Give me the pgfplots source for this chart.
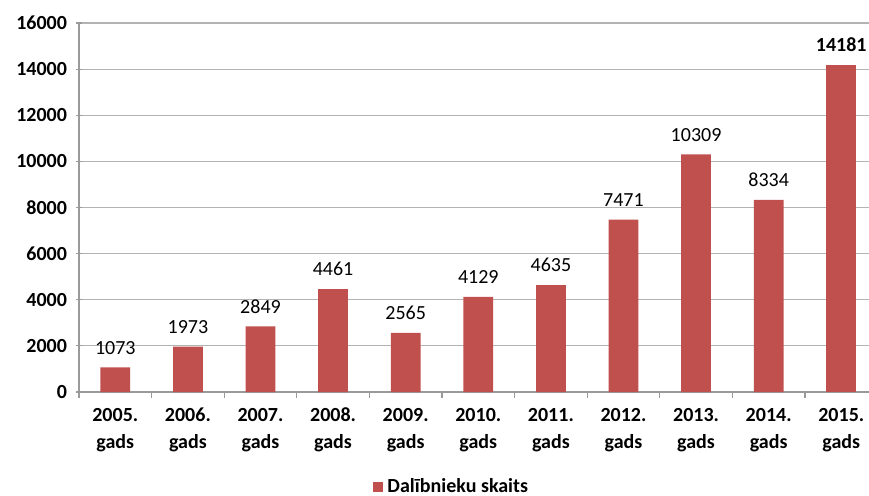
\documentclass[border=0pt]{standalone}
\usepackage{pgfplots}
\pgfplotsset{compat=1.18}
\usepackage{fontspec}
\setmainfont{Carlito}
\definecolor{barred}{HTML}{C0504D}
\definecolor{gridgray}{HTML}{B3B3B3}
\definecolor{axisgray}{HTML}{9A9A9A}

\begin{document}
\fontsize{10}{12}\selectfont
\begin{tikzpicture}
\path[use as bounding box] (0,0) rectangle (434.5pt,247.5pt);
\begin{axis}[
  at={(39.5pt,51.5pt)}, anchor=south west,
  scale only axis,
  width=394.75pt, height=184.5pt,
  xmin=-0.5, xmax=10.375,
  ymin=0, ymax=16000,
  ytick={0,2000,...,16000},
  xtick={0,...,10},
  xticklabels={{2005.\\gads},{2006.\\gads},{2007.\\gads},{2008.\\gads},{2009.\\gads},{2010.\\gads},{2011.\\gads},{2012.\\gads},{2013.\\gads},{2014.\\gads},{2015.\\gads}},
  minor xtick={-0.5,0.5,...,10.5},
  major x tick style={draw=none},
  minor tick length=3pt,
  major tick length=3pt,
  tick align=outside,
  axis x line=bottom, axis y line=left,
  axis line style={-, draw=axisgray, line width=0.6pt},
  tick style={draw=axisgray, line width=0.6pt},
  ymajorgrids=true,
  grid style={draw=gridgray, line width=0.6pt},
  /pgf/number format/assume math mode=true,
  /pgf/number format/1000 sep={},
  yticklabel style={font=\bfseries\fontsize{10}{12}\selectfont, xshift=-1pt},
  xticklabel style={font=\bfseries\fontsize{10}{13.5}\selectfont, align=center, yshift=-1.5pt},
  scaled y ticks=false,
  ybar, bar width=0.41, bar shift=0pt,
  nodes near coords,
  nodes near coords style={font=\fontsize{10}{12}\selectfont, yshift=3pt, /pgf/number format/1000 sep={}, /pgf/number format/assume math mode=true},
  legend style={at={(0.372,-0.257)}, anchor=west, draw=none, fill=none, inner sep=0pt,
    font=\bfseries\fontsize{10}{12}\selectfont},
  legend image code/.code={\fill[barred] (0pt,-2.6pt) rectangle (5.2pt,2.6pt);},
]
\addplot[fill=barred, draw=none] coordinates {
  (0,1073) (1,1973) (2,2849) (3,4461) (4,2565) (5,4129) (6,4635) (7,7471) (8,10309) (9,8334)
};
\addlegendentry{Dalībnieku skaits}
\addplot[fill=barred, draw=none, nodes near coords style={font=\bfseries\fontsize{10}{12}\selectfont}, forget plot] coordinates {
  (10,14181)
};
\end{axis}
\end{tikzpicture}
\end{document}
